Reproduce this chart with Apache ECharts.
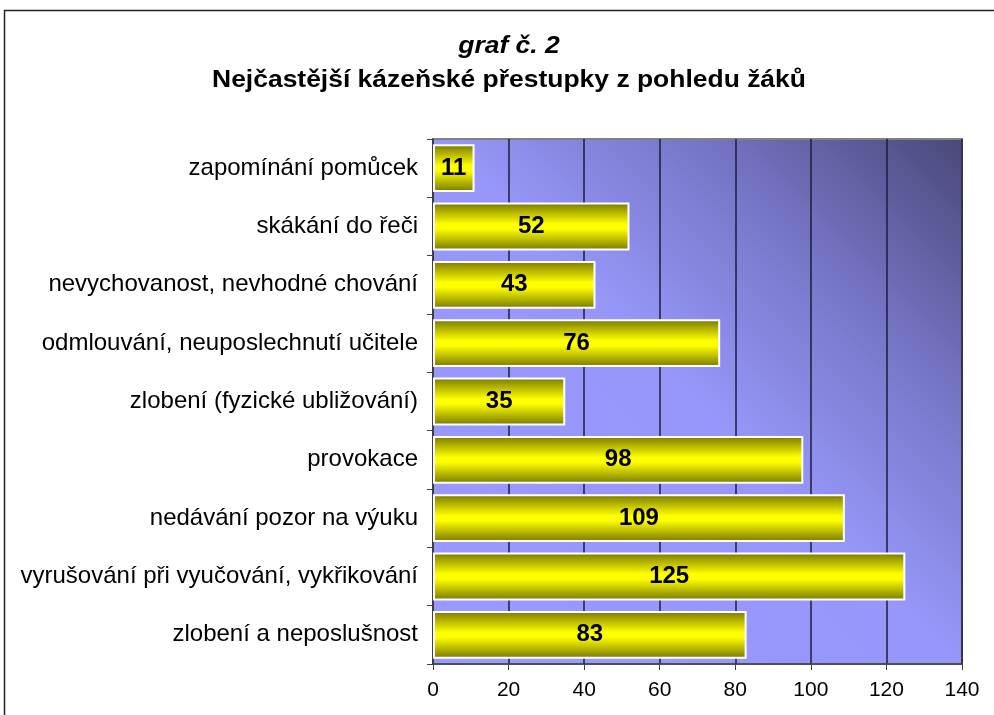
<!DOCTYPE html>
<html>
<head>
<meta charset="utf-8">
<script src="https://cdn.jsdelivr.net/npm/echarts@6/dist/echarts.min.js"></script>
<style>
  html, body { margin: 0; padding: 0; background: #fff; }
  #chart { width: 994px; height: 715px; }
</style>
</head>
<body>
<div id="chart"></div>
<script>
// kategorie odspodu nahoru (osa y kategorie zacina dole)
var categories = [
	'zlobení a neposlušnost',
	'vyrušování při vyučování, vykřikování',
	'nedávání pozor na výuku',
	'provokace',
	'zlobení (fyzické ubližování)',
	'odmlouvání, neuposlechnutí učitele',
	'nevychovanost, nevhodné chování',
	'skákání do řeči',
	'zapomínání pomůcek'
];
var values = [83, 125, 109, 98, 35, 76, 43, 52, 11];
var xTicks = [0, 20, 40, 60, 80, 100, 120, 140];

var titleLine1 = 'graf č. 2';
var titleLine2 = 'Nejčastější kázeňské přestupky z pohledu žáků';

var font = '"Liberation Sans", Arial, sans-serif';

var myChart = echarts.init(document.getElementById('chart'));

var option = {
	backgroundColor: '#ffffff',
	animation: false,
	graphic: [
		{
			type: 'rect',
			shape: { x: 4.5, y: 10.5, width: 1000, height: 720 },
			style: { fill: 'none', stroke: '#222', lineWidth: 1.5 },
			z: -10
		},
		{
			type: 'text',
			x: 509, y: 47,
			scaleX: 1.15,
			style: {
				text: titleLine1, fill: '#000', font: 'italic bold 23px ' + font,
				textAlign: 'center', textVerticalAlign: 'middle'
			}
		},
		{
			type: 'text',
			x: 509, y: 81,
			scaleX: 1.15,
			style: {
				text: titleLine2, fill: '#000', font: 'bold 23px ' + font,
				textAlign: 'center', textVerticalAlign: 'middle'
			}
		}
	],
	grid: {
		left: 433, right: 32, top: 139, bottom: 51,
		show: true,
		borderColor: '#808080',
		borderWidth: 2,
		backgroundColor: new echarts.graphic.LinearGradient(0, 1, 1, 0, [
			{ offset: 0, color: '#9999ff' },
			{ offset: 0.5, color: '#9797fa' },
			{ offset: 0.75, color: '#7575c5' },
			{ offset: 1, color: '#484878' }
		])
	},
	xAxis: {
		type: 'value',
		min: 0, max: 140, interval: 20,
		axisLine: { show: true, lineStyle: { color: '#404040', width: 1.5 } },
		axisTick: { show: true, length: 6, lineStyle: { color: '#404040' } },
		axisLabel: {
			margin: 16, color: '#000', fontSize: 21, fontFamily: font,
			formatter: function (v) { return xTicks.indexOf(v) >= 0 ? String(v) : ''; }
		},
		splitLine: { show: true, lineStyle: { color: '#1c1c3c', width: 1.5 } }
	},
	yAxis: {
		type: 'category',
		data: categories,
		axisLine: { show: true, lineStyle: { color: '#404040', width: 1.5 } },
		axisTick: { show: true, length: 6, lineStyle: { color: '#404040' } },
		axisLabel: { margin: 15, color: '#000', fontSize: 24, fontFamily: font },
		splitLine: { show: false }
	},
	series: [
		{
			type: 'bar',
			data: values,
			barCategoryGap: '18%',
			itemStyle: {
				color: new echarts.graphic.LinearGradient(0, 0, 0, 1, [
					{ offset: 0, color: '#777700' },
					{ offset: 0.45, color: '#ffff00' },
					{ offset: 0.55, color: '#ffff00' },
					{ offset: 1, color: '#777700' }
				]),
				borderColor: '#ffffff',
				borderWidth: 2
			},
			label: {
				show: true,
				position: 'inside',
				color: '#000',
				fontSize: 24,
				fontWeight: 'bold',
				fontFamily: font
			}
		}
	]
};

myChart.setOption(option);
</script>
</body>
</html>
